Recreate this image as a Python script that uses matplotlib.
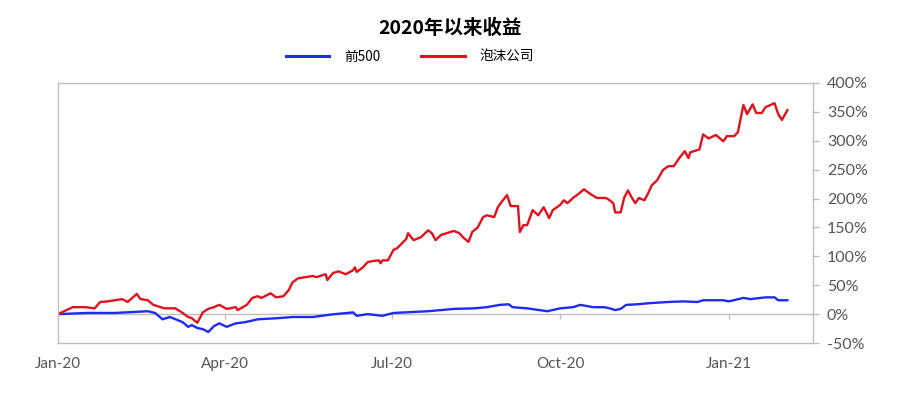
import numpy as np
import pandas as pd
import matplotlib
matplotlib.use('Agg')
import matplotlib.pyplot as plt
from matplotlib.ticker import FuncFormatter

# data: days since 2020-01-01 and cumulative return (%)
start = pd.Timestamp('2020-01-01')

bubble_days = [0, 8, 15, 20, 23, 27, 35, 38, 43, 45, 49, 52, 58, 64, 68, 71, 73, 76,
               79, 82, 85, 88, 92, 97, 98, 103, 106, 109, 111, 116, 119, 123, 126,
               128, 131, 135, 139, 141, 144, 146, 147, 150, 153, 157, 161, 162, 163,
               166, 169, 172, 175, 176, 177, 180, 183, 185, 190, 191, 194, 198, 202,
               204, 206, 209, 212, 216, 219, 221, 224, 226, 229, 232, 234, 238, 240,
               242, 245, 247, 251, 252, 254, 256, 259, 262, 265, 268, 270, 274, 276,
               278, 281, 284, 287, 290, 294, 299, 301, 303, 304, 307, 309, 311, 313,
               315, 317, 320, 322, 324, 327, 330, 333, 336, 339, 342, 344, 345, 350,
               352, 355, 359, 363, 365, 369, 371, 374, 376, 379, 381, 384, 386, 391,
               393, 395, 398]
bubble_ret = [0, 12, 12, 10, 21, 22, 26, 21, 35, 26, 24, 16, 10, 10, 2, -5, -7, -15,
              3, 9, 12, 16, 9, 12, 7, 16, 28, 31, 28, 36, 29, 31, 42,
              55, 62, 64, 66, 64, 67, 69, 59, 71, 74, 69, 76, 81, 73,
              80, 90, 92, 93, 88, 93, 93, 111, 114, 130, 140, 128, 133, 145,
              140, 128, 137, 140, 144, 140, 133, 125, 142, 150, 168, 171, 168, 185,
              194, 206, 187, 187, 142, 154, 154, 180, 171, 185, 166, 180, 189, 197,
              192, 201, 208, 216, 209, 201, 201, 197, 192, 176, 176, 202, 214, 202,
              192, 201, 197, 209, 223, 232, 249, 256, 256, 270, 282, 270, 280, 285,
              311, 304, 310, 299, 308, 308, 315, 362, 346, 363, 348, 348, 358, 365,
              346, 336, 353]

sp_days = [0, 16, 31, 37, 49, 53, 57, 61, 65, 68, 71, 73, 76, 79, 82, 85, 88, 92,
           97, 102, 109, 120, 128, 139, 146, 151, 158, 161, 163, 169, 177, 183, 202,
           216, 227, 234, 241, 246, 248, 256, 267, 274, 281, 285, 292, 298, 301,
           304, 307, 310, 316, 323, 333, 341, 349, 352, 363, 366, 374, 378, 386,
           391, 393, 398]
sp_ret = [0, 2, 2, 3, 5, 2, -9, -5, -10, -14, -22, -19, -24, -26, -31, -21, -16, -22,
          -16, -14, -9, -7, -5, -5, -2, 0, 2, 3, -3, 0, -3, 2, 5,
          9, 10, 12, 16, 17, 12, 10, 5, 10, 12, 16, 12, 12, 10,
          7, 9, 16, 17, 19, 21, 22, 21, 24, 24, 22, 28, 26, 29,
          29, 24, 24]

tick_dates = ['2020-01-01', '2020-04-01', '2020-07-01', '2020-10-01', '2021-01-01']
tick_labels = ['Jan-20', 'Apr-20', 'Jul-20', 'Oct-20', 'Jan-21']

labels = ['前500', '泡沫公司']
colors = ['#1c2cf5', '#e0121c']

plt.rcParams['font.family'] = ['Lato', 'Noto Sans CJK SC', 'DejaVu Sans']

fig = plt.figure(figsize=(9.01, 3.97), dpi=100)
ax = fig.add_axes([0.0644, 0.136, 0.838, 0.655])

sp_x = start + pd.to_timedelta(sp_days, unit='D')
bub_x = start + pd.to_timedelta(bubble_days, unit='D')
ax.plot(sp_x, sp_ret, color=colors[0], lw=1.7, label=labels[0])
ax.plot(bub_x, bubble_ret, color=colors[1], lw=1.7, label=labels[1])

grey = '#bdbdbd'
ax.axhline(0, color=grey, lw=1, zorder=0)
ticks = pd.to_datetime(tick_dates)
# small tick marks hanging below the zero line
ax.vlines(ticks[1:], -8, 0, color=grey, lw=1, zorder=0)

ax.set_xlim(start, start + pd.Timedelta(days=412))
ax.set_ylim(-50, 400)
ax.set_xticks(ticks)
ax.set_xticklabels(tick_labels)
ax.tick_params(axis='x', length=0, pad=10, labelsize=11, labelcolor='#555555')

ax.yaxis.tick_right()
ax.set_yticks(np.arange(-50, 401, 50))
ax.yaxis.set_major_formatter(FuncFormatter(lambda v, p: f'{int(v)}%'))
ax.tick_params(axis='y', length=4, width=1, color=grey, pad=6,
               labelsize=11.5, labelcolor='#555555')

for s in ax.spines.values():
    s.set_color(grey)
    s.set_linewidth(1)

fig.text(0.5, 0.93, '2020年以来收益', ha='center', va='center',
         fontsize=14, fontweight='bold', family=['Noto Sans CJK SC'])

leg = ax.legend(loc='center', bbox_to_anchor=(0.455, 0.856),
                bbox_transform=fig.transFigure, ncol=2, frameon=False,
                handlelength=3.2, handletextpad=1.1, columnspacing=3.0,
                prop={'family': 'Noto Sans CJK SC', 'size': 9.8})
for h in leg.get_lines():
    h.set_linewidth(2.2)

fig.savefig('out.png', dpi=100)
